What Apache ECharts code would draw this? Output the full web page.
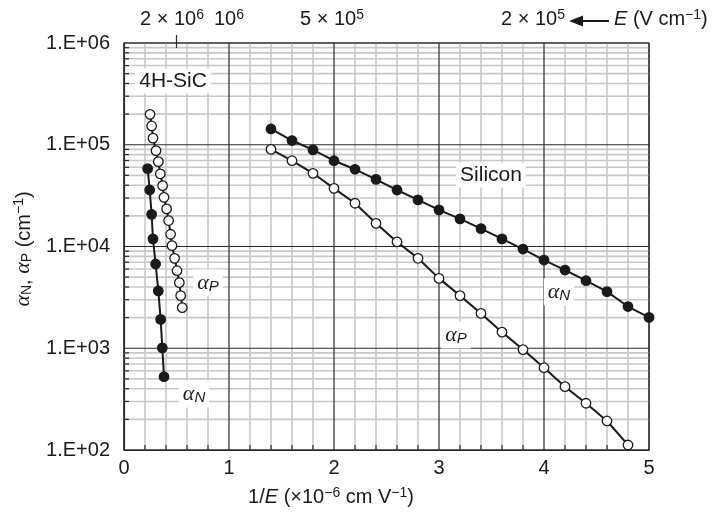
<!DOCTYPE html>
<html><head><meta charset="utf-8">
<script src="https://cdn.jsdelivr.net/npm/echarts@6/dist/echarts.min.js"></script>
<style>html,body{margin:0;padding:0;background:#fff}#c{width:727px;height:519px}</style>
</head><body><div id="c"></div>
<script>
// ---- data ----
const siX = [1.4,1.6,1.8,2.0,2.2,2.4,2.6,2.8,3.0,3.2,3.4,3.6,3.8,4.0,4.2,4.4,4.6,4.8,5.0];
const siAlphaN = [1.43e5,1.10e5,8.9e4,6.97e4,5.74e4,4.57e4,3.59e4,2.87e4,2.29e4,1.87e4,1.50e4,1.19e4,9.44e3,7.36e3,5.87e3,4.61e3,3.60e3,2.57e3,2.01e3];
const siXP = [1.4,1.6,1.8,2.0,2.2,2.4,2.6,2.8,3.0,3.2,3.4,3.6,3.8,4.0,4.2,4.4,4.6,4.8];
const siAlphaP = [9.0e4,6.97e4,5.24e4,3.73e4,2.66e4,1.69e4,1.11e4,7.66e3,4.86e3,3.29e3,2.20e3,1.44e3,970,644,419,288,193,112];
const sicXP = [0.248,0.263,0.276,0.305,0.327,0.346,0.368,0.381,0.406,0.425,0.444,0.457,0.482,0.505,0.527,0.540,0.555];
const sicAlphaP = [1.99e5,1.53e5,1.16e5,8.75e4,6.82e4,5.17e4,3.96e4,3.04e4,2.34e4,1.80e4,1.32e4,1.02e4,7.65e3,5.78e3,4.41e3,3.29e3,2.51e3];
const sicXN = [0.225,0.245,0.263,0.276,0.301,0.327,0.349,0.365,0.381];
const sicAlphaN = [5.82e4,3.59e4,2.07e4,1.19e4,6.73e3,3.66e3,1.92e3,1.01e3,525];
const xTickLabels = ['0','1','2','3','4','5'];
const yTickLabels = ['1.E+02','1.E+03','1.E+04','1.E+05','1.E+06'];
const annotX = [0.467, 3.495, 0.80, 0.667, 4.143, 3.162];
const annotY = [4.24e5, 5.05e4, 4.38e3, 355, 3.57e3, 1349];
const annotText = ['4H-SiC','Silicon','{a|α}{sub|P}','{a|α}{sub|N}','{a|α}{sub|N}','{a|α}{sub|P}'];
const topAxisX = [0.5];
const topLabels = [['2 × 10','6'],['10','6'],['5 × 10','5'],['2 × 10','5']];

const SANS = '"Liberation Sans", Arial, Helvetica, sans-serif';
const SERIF = '"Liberation Serif", "DejaVu Serif", serif';
const INK = '#1a1a1a';
const FS = 20;

const zip = (a,b) => a.map((v,i)=>[v,b[i]]);

const xMajor = [], xMinor = [];
for (let i = 0; i <= 25; i++) { (i % 5 === 0 ? xMajor : xMinor).push(i / 5); }
const yMajor = [], yMinor = [];
for (let d = 2; d <= 6; d++) { yMajor.push(Math.pow(10, d)); if (d < 6) for (let m = 2; m <= 9; m++) yMinor.push(m * Math.pow(10, d)); }

function renderGrid(params, api) {
  const cs = params.coordSys;
  const x0 = cs.x, x1 = cs.x + cs.width, y0 = cs.y, y1 = cs.y + cs.height;
  const gray = {stroke:'#c8c8c8', lineWidth:1.6};
  const dark = {stroke:'#2a2a2a', lineWidth:1.2};
  const ch = [];
  xMinor.forEach(v => { const p = api.coord([v, 1e4]); ch.push({type:'line', shape:{x1:p[0],y1:y0,x2:p[0],y2:y1}, style:gray}); });
  yMinor.forEach(v => { const p = api.coord([0, v]); ch.push({type:'line', shape:{x1:x0,y1:p[1],x2:x1,y2:p[1]}, style:gray}); });
  xMinor.forEach(v => { const p = api.coord([v, 1e4]); ch.push({type:'line', shape:{x1:p[0],y1:y1,x2:p[0],y2:y1-5}, style:dark}); });
  yMinor.forEach(v => { const p = api.coord([0, v]); ch.push({type:'line', shape:{x1:x0,y1:p[1],x2:x0+5,y2:p[1]}, style:dark}); });
  xMajor.forEach(v => { const p = api.coord([v, 1e4]); ch.push({type:'line', shape:{x1:p[0],y1:y0,x2:p[0],y2:y1}, style:dark}); });
  yMajor.forEach(v => { const p = api.coord([0, v]); ch.push({type:'line', shape:{x1:x0,y1:p[1],x2:x1,y2:p[1]}, style:dark}); });
  topAxisX.forEach(v => { const p = api.coord([v, 1e6]); ch.push({type:'line', shape:{x1:p[0],y1:p[1]-8,x2:p[0],y2:p[1]+5}, style:dark}); });
  return {type:'group', children: ch};
}

const alphaRich = {
  a: {fontFamily: SERIF, fontStyle:'italic', fontSize: 22, fill: INK},
  sub: {fontFamily: SANS, fontStyle:'italic', fontSize: 15, fill: INK, verticalAlign:'bottom', padding:[8,0,0,0]}
};

function renderAnnot(params, api) {
  const p = api.coord([api.value(0), api.value(1)]);
  const t = annotText[api.value(2)];
  return {type:'text', x:p[0], y:p[1], z2: 10, style:{
    text: t, rich: alphaRich, fontFamily: SANS, fontSize: 21, fill: INK,
    align:'center', verticalAlign:'middle', backgroundColor:'#fff', padding:[2,4,2,4]
  }};
}

const supRich = {
  n:{fontFamily:SANS, fontSize:FS, fill:INK, lineHeight:21, verticalAlign:'bottom'},
  i:{fontFamily:SANS, fontStyle:'italic', fontSize:FS, fill:INK, lineHeight:21, verticalAlign:'bottom'},
  sup:{fontFamily:SANS, fontSize:14, fill:INK, verticalAlign:'top', lineHeight:13}
};

const chart = echarts.init(document.getElementById('c'), null, {renderer:'canvas'});
const pointSeries = (name, xs, ys, filled) => ({
  type:'line', name, data: zip(xs, ys), symbol:'circle', symbolSize: 9.5, z: 5,
  showSymbol: true, animation:false,
  lineStyle:{color: INK, width: 2},
  itemStyle:{color: filled ? INK : '#fff', borderColor: INK, borderWidth: 1.3, opacity: 1}
});

const topX = [172, 229, 332, 533];

chart.setOption({
  animation: false,
  backgroundColor: '#fff',
  grid: {left:124, right:78, top:43, bottom:69, show:true, borderColor:'#2a2a2a', borderWidth:1.2, backgroundColor:'transparent'},
  xAxis: {type:'value', min:0, max:5, interval:1,
    axisLine:{show:true, lineStyle:{color:'#2a2a2a', width:1.2}}, axisTick:{show:false}, splitLine:{show:false},
    axisLabel:{fontSize:FS, fontFamily:SANS, color:INK, margin:8, formatter: v => xTickLabels[Math.round(v)]}},
  yAxis: {type:'log', logBase:10, min:100, max:1e6,
    axisLine:{show:true, lineStyle:{color:'#2a2a2a', width:1.2}}, axisTick:{show:false}, splitLine:{show:false},
    axisLabel:{fontSize:FS, fontFamily:SANS, color:INK, margin:14, formatter: v => yTickLabels[Math.round(Math.log10(v)) - 2]}},
  series: [
    {type:'custom', name:'grid', renderItem: renderGrid, data:[[0, 1e4]], z:1, silent:true, animation:false},
    pointSeries('SiC αN', sicXN, sicAlphaN, true),
    pointSeries('SiC αP', sicXP, sicAlphaP, false),
    pointSeries('Si αN', siX, siAlphaN, true),
    pointSeries('Si αP', siXP, siAlphaP, false),
    {type:'custom', name:'labels', renderItem: renderAnnot, z:8, silent:true, animation:false,
      data: annotX.map((x,i)=>[x, annotY[i], i])}
  ],
  graphic: [
    {type:'text', x:23, y:249, rotation: Math.PI/2, style:{
      text:'{a|α}{sub|N}{n|, }{a|α}{sub|P}{n| (cm}{sup|−1}{n|)}', align:'center', verticalAlign:'middle',
      rich:{
        a:{fontFamily:SERIF, fontStyle:'italic', fontSize:22, fill:INK, lineHeight:22, verticalAlign:'bottom'},
        sub:{fontFamily:SANS, fontSize:14, fill:INK, verticalAlign:'bottom', lineHeight:14},
        n:{fontFamily:SANS, fontSize:FS, fill:INK, lineHeight:21, verticalAlign:'bottom'},
        sup:{fontFamily:SANS, fontSize:14, fill:INK, verticalAlign:'top', lineHeight:13}
      }}},
    {type:'text', x:331, y:497, style:{
      text:'{n|1/}{i|E}{n| (×10}{sup|−6}{n| cm V}{sup|−1}{n|)}', align:'center', verticalAlign:'middle', rich: supRich}},
    ...topLabels.map(([b,s],k) => ({
      type:'text', x:topX[k], y:19, style:{
        text:'{n|'+b+'}{sup|'+s+'}', align:'center', verticalAlign:'middle', rich: supRich}})),
    {type:'line', shape:{x1:580, y1:21, x2:609, y2:21}, style:{stroke:INK, lineWidth:2}},
    {type:'polygon', shape:{points:[[569,21],[583,15.5],[583,26.5]]}, style:{fill:INK}},
    {type:'text', x:614, y:19, style:{
      text:'{i|E}{n| (V cm}{sup|−1}{n|)}', align:'left', verticalAlign:'middle', rich: supRich}}
  ]
});
</script></body></html>
